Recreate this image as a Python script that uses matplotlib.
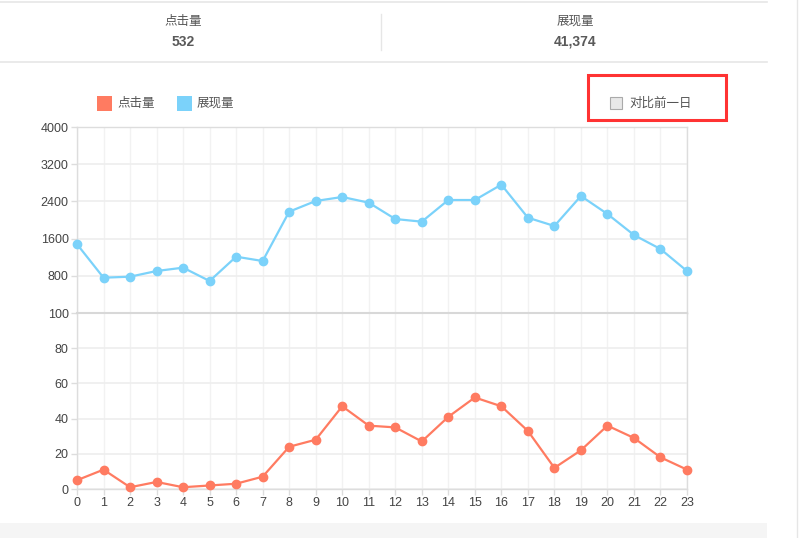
import matplotlib
matplotlib.use("Agg")
from matplotlib import pyplot as plt
from matplotlib.patches import Rectangle
from matplotlib.lines import Line2D
import numpy as np

plt.rcParams['font.family'] = ['Liberation Sans', 'Noto Sans CJK SC', 'DejaVu Sans']

# Data
hours = list(range(24))
clicks = [5, 11, 1, 4, 1, 2, 3, 7, 24, 28, 47, 36, 35, 27, 41, 52, 47, 33, 12, 22, 36, 29, 18, 11]
views = [1480, 759, 781, 903, 975, 688, 1211, 1118, 2179, 2409, 2495, 2373, 2021, 1964,
         2430, 2430, 2760, 2050, 1871, 2516, 2129, 1677, 1376, 903]
series_names = ['点击量', '展现量']
totals = ['532', '41,374']
upper_ticks = [800, 1600, 2400, 3200, 4000]
lower_ticks = [0, 20, 40, 60, 80, 100]

red = '#ff7b61'
blue = '#7bd2fa'
grid_c = '#eeeeee'
frame_c = '#dddddd'
text_c = '#444444'

W, H = 807, 538
fig = plt.figure(figsize=(W / 100, H / 100), dpi=100)


def px_axes(x0, y0, x1, y1):
    # pixel box (top-left origin) -> figure axes
    return fig.add_axes([x0 / W, 1 - y1 / H, (x1 - x0) / W, (y1 - y0) / H])


# page decorations
deco = fig.add_axes([0, 0, 1, 1])
deco.set_xlim(0, W)
deco.set_ylim(H, 0)
deco.axis('off')
deco.add_line(Line2D([0, 767], [2, 2], color='#e6e6e6', lw=1.2))
deco.add_line(Line2D([0, 767], [62, 62], color='#e6e6e6', lw=1.2))
deco.add_line(Line2D([381, 381], [14, 50], color='#e6e6e6', lw=1))
deco.add_line(Line2D([797, 797], [0, H], color='#e6e6e6', lw=1))
deco.add_patch(Rectangle((0, 523), 767, 15, color='#f5f5f5', lw=0))
for cx, name, tot in zip([183, 575], series_names, totals):
    deco.text(cx, 22, name, ha='center', va='center', fontsize=9, color='#555555')
    deco.text(cx, 42, tot, ha='center', va='center', fontsize=10, color='#5a5a5a', fontweight='bold')

# legend
for lx, c, name in zip([97, 177], [red, blue], series_names):
    deco.add_patch(Rectangle((lx, 96), 15, 15, color=c, lw=0))
    deco.text(lx + 20, 103.5, name, ha='left', va='center', fontsize=9, color='#555555')

# checkbox box
deco.add_patch(Rectangle((588, 75), 138, 45, fill=False, edgecolor='#ff3333', lw=2.2))
deco.add_patch(Rectangle((610, 97), 12, 12, facecolor='#e8e8e8', edgecolor='#aaaaaa', lw=0.8))
deco.text(629, 103.5, '对比前一日', ha='left', va='center', fontsize=9, color='#555555')

x0, x1 = 77, 687
ax_top = px_axes(x0, 127, x1, 313)
ax_bot = px_axes(x0, 313, x1, 489)

for ax in (ax_top, ax_bot):
    ax.set_xlim(0, 23)
    ax.set_xticks(hours)
    ax.grid(True, axis='x', color='#f2f2f2', lw=1)
    ax.grid(True, axis='y', color=grid_c, lw=1.2)
    ax.set_axisbelow(True)
    for s in ax.spines.values():
        s.set_color(frame_c)
        s.set_linewidth(1)
    ax.tick_params(colors=frame_c, labelcolor=text_c, labelsize=9, length=4, width=1, pad=2)

ax_top.set_ylim(0, 4000)
ax_top.set_yticks(upper_ticks)
ax_top.tick_params(axis='x', labelbottom=False, length=0)
ax_top.plot(hours, views, color=blue, lw=1.6, marker='o', markersize=6, clip_on=False, zorder=3)

ax_bot.set_ylim(0, 100)
ax_bot.set_yticks(lower_ticks)
ax_bot.spines['top'].set_color('#d8d8d8')
ax_bot.spines['top'].set_linewidth(1.5)
ax_bot.plot(hours, clicks, color=red, lw=1.6, marker='o', markersize=6, clip_on=False, zorder=3)

fig.savefig('out.png', dpi=100)
